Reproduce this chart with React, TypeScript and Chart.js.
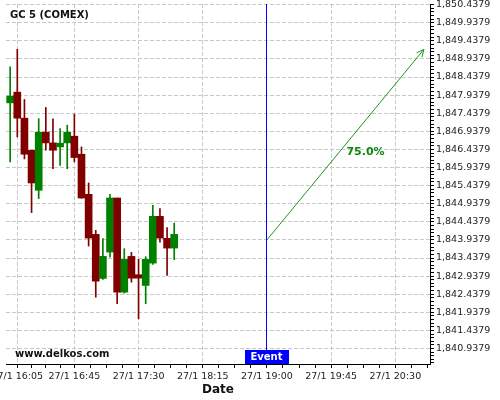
import { useEffect, useRef } from "react";
import { Chart, registerables } from "chart.js";

Chart.register(...registerables);

// ---- data ----
const candleTimes = ["16:00", "16:05", "16:10", "16:15", "16:20", "16:25", "16:30", "16:35", "16:40", "16:45", "16:50", "16:55",
  "17:00", "17:05", "17:10", "17:15", "17:20", "17:25", "17:30", "17:35", "17:40", "17:45", "17:50", "17:55"];
const opens = [1847.724, 1848.020, 1847.301, 1846.415, 1845.309, 1846.914, 1846.618, 1846.507, 1846.618, 1846.803, 1846.305, 1845.198,
  1844.091, 1842.874, 1843.602, 1845.096, 1842.495, 1843.483, 1842.976, 1842.680, 1843.297, 1844.589, 1843.981, 1843.712];
const closes = [1847.910, 1847.301, 1846.305, 1845.511, 1846.914, 1846.618, 1846.415, 1846.610, 1846.914, 1846.214, 1845.096, 1843.989,
  1842.799, 1843.483, 1845.096, 1842.495, 1843.400, 1842.882, 1842.882, 1843.400, 1844.589, 1843.989, 1843.712, 1844.091];
const highs = [1848.720, 1849.202, 1847.818, 1846.415, 1847.287, 1847.597, 1847.282, 1847.016, 1847.107, 1847.412, 1846.507, 1845.511,
  1844.202, 1843.972, 1845.198, 1845.096, 1843.696, 1843.593, 1843.400, 1843.474, 1844.894, 1844.802, 1844.277, 1844.404];
const lows = [1846.092, 1846.783, 1846.175, 1844.692, 1845.079, 1846.415, 1845.909, 1845.995, 1845.904, 1846.092, 1845.088, 1843.768,
  1842.356, 1842.846, 1843.463, 1842.174, 1842.467, 1842.771, 1841.759, 1842.174, 1843.261, 1843.878, 1842.957, 1843.391];

const xTickTimes = ["16:05", "16:45", "17:30", "18:15", "19:00", "19:45", "20:30"];
const xTickLabels = ["27/1 16:05", "27/1 16:45", "27/1 17:30", "27/1 18:15", "27/1 19:00", "27/1 19:45", "27/1 20:30"];
const yTickValues = [1840.9379, 1841.4379, 1841.9379, 1842.4379, 1842.9379, 1843.4379, 1843.9379, 1844.4379, 1844.9379, 1845.4379,
  1845.9379, 1846.4379, 1846.9379, 1847.4379, 1847.9379, 1848.4379, 1848.9379, 1849.4379, 1849.9379, 1850.4379];

const eventTime = "19:00";
const eventLabel = "Event";
const arrowStart = { time: "19:00", value: 1843.9379 };
const arrowEnd = { time: "20:50", value: 1849.2 };
const probabilityText = "75.0%";
const chartTitle = "GC 5 (COMEX)";
const watermark = "www.delkos.com";
const xAxisTitle = "Date";

// ---- helpers / styles ----
const BASE_MIN = 16 * 60;
const toMin = (t: string) => {
  const [h, m] = t.split(":").map(Number);
  return h * 60 + m - BASE_MIN;
};
const X_MIN = -2.92;
const X_MAX = 294.3;
const Y_MIN = 1840.51;
const Y_MAX = 1850.455;
const FONT = "'DejaVu Sans', sans-serif";
const UP = "rgb(0,128,0)";
const DOWN = "rgb(128,0,0)";
const ARROW = "rgb(30,150,30)";
const GRID = "#c8c8c8";

const fmt = (v: number) => v.toLocaleString("en-US", { minimumFractionDigits: 4, maximumFractionDigits: 4 });

function buildXTicks() {
  const majors = xTickTimes.map(toMin);
  const ticks: any[] = [];
  majors.forEach((v, i) => {
    ticks.push({ value: v, txt: xTickLabels[i], minor: false });
    const next = i < majors.length - 1 ? majors[i + 1] : null;
    const step = next !== null ? (next - v) / 4 : (v - majors[i - 1]) / 4;
    for (let k = 1; k < 4; k++) {
      const mv = v + step * k;
      if (mv <= X_MAX && (next === null || mv < next)) ticks.push({ value: mv, txt: "", minor: true });
    }
  });
  return ticks.sort((a, b) => a.value - b.value);
}

function buildYTicks() {
  const ticks: any[] = [];
  yTickValues.forEach((v) => ticks.push({ value: v, txt: fmt(v), minor: false }));
  const first = yTickValues[0];
  for (let k = -4; k <= 95; k++) {
    if (k % 5 === 0) continue;
    const mv = first + k * 0.1;
    if (mv >= Y_MIN && mv <= Y_MAX) ticks.push({ value: mv, txt: "", minor: true });
  }
  return ticks.sort((a, b) => a.value - b.value);
}

const overlay = {
  id: "overlay",
  afterDatasetsDraw(chart: any) {
    const { ctx, chartArea, scales } = chart;
    const x = scales.x;
    const y = scales.y;
    ctx.save();

    // event line (aligned like Chart.js grid lines)
    const ex = Math.round(x.getPixelForValue(toMin(eventTime)) - 0.5) + 0.5;
    ctx.strokeStyle = "rgb(0,0,255)";
    ctx.lineWidth = 1;
    ctx.beginPath();
    ctx.moveTo(ex, chartArea.top);
    ctx.lineTo(ex, chartArea.bottom);
    ctx.stroke();

    // arrow head
    const x1 = x.getPixelForValue(toMin(arrowStart.time));
    const y1 = y.getPixelForValue(arrowStart.value);
    const x2 = x.getPixelForValue(toMin(arrowEnd.time));
    const y2 = y.getPixelForValue(arrowEnd.value);
    const ang = Math.atan2(y2 - y1, x2 - x1);
    const hl = 8;
    ctx.strokeStyle = ARROW;
    ctx.beginPath();
    ctx.moveTo(x2 - hl * Math.cos(ang - 0.45), y2 - hl * Math.sin(ang - 0.45));
    ctx.lineTo(x2, y2);
    ctx.lineTo(x2 - hl * Math.cos(ang + 0.45), y2 - hl * Math.sin(ang + 0.45));
    ctx.stroke();

    // probability text
    const mx = (x1 + x2) / 2;
    const my = (y1 + y2) / 2;
    ctx.fillStyle = "rgb(10,138,10)";
    ctx.font = `bold 11px ${FONT}`;
    ctx.textAlign = "left";
    ctx.textBaseline = "middle";
    ctx.fillText(probabilityText, mx + 1, my + 7.5);

    // title and watermark
    ctx.fillStyle = "#111";
    ctx.font = `bold 10px ${FONT}`;
    ctx.fillText(chartTitle, chartArea.left + 4, chartArea.top + 11.5);
    ctx.fillText(watermark, chartArea.left + 9, chartArea.bottom - 9.5);

    // event box
    ctx.font = `bold 10px ${FONT}`;
    const tw = ctx.measureText(eventLabel).width;
    const bw = Math.round(tw + 12);
    const bh = 14;
    ctx.fillStyle = "rgb(0,0,255)";
    ctx.fillRect(Math.round(ex - bw / 2), chartArea.bottom - bh, bw, bh);
    ctx.fillStyle = "#fff";
    ctx.textAlign = "center";
    ctx.fillText(eventLabel, ex, chartArea.bottom - bh / 2 + 0.5);

    ctx.restore();
  },
};

export default function App() {
  const ref = useRef<HTMLCanvasElement>(null);

  useEffect(() => {
    const colors = opens.map((o, i) => (closes[i] >= o ? UP : DOWN));
    const xTicks = buildXTicks();
    const yTicks = buildYTicks();
    const gridColor = (c: any) => (c.tick && c.tick.minor ? "rgba(0,0,0,0)" : GRID);

    const chart = new Chart(ref.current as HTMLCanvasElement, {
      type: "bar",
      data: {
        datasets: [
          {
            type: "bar",
            label: "body",
            data: candleTimes.map((t, i) => ({ x: toMin(t), y: [opens[i], closes[i]] })) as any,
            backgroundColor: colors,
            borderWidth: 0,
            barThickness: 7,
            grouped: false,
          } as any,
          {
            type: "bar",
            label: "wick",
            data: candleTimes.map((t, i) => ({ x: toMin(t), y: [lows[i], highs[i]] })) as any,
            backgroundColor: colors,
            borderWidth: 0,
            barThickness: 1,
            grouped: false,
          } as any,
          {
            type: "line",
            label: "arrow",
            data: [
              { x: toMin(arrowStart.time), y: arrowStart.value },
              { x: toMin(arrowEnd.time), y: arrowEnd.value },
            ],
            borderColor: ARROW,
            borderWidth: 1,
            pointRadius: 0,
            fill: false,
          } as any,
        ],
      },
      options: {
        responsive: false,
        animation: false,
        devicePixelRatio: 1,
        layout: { padding: { left: 6, top: 4, right: 0, bottom: 0 }, autoPadding: false } as any,
        plugins: { legend: { display: false }, tooltip: { enabled: false } },
        scales: {
          x: {
            type: "linear",
            position: "bottom",
            min: X_MIN,
            max: X_MAX,
            bounds: "data",
            offset: false,
            grid: {
              offset: false,
              color: gridColor,
              lineWidth: 1,
              tickColor: "#000",
              tickLength: 4,
              tickBorderDash: [],
            } as any,
            border: { display: true, color: "#000", width: 1, dash: [4, 2] },
            ticks: {
              autoSkip: false,
              maxRotation: 0,
              minRotation: 0,
              padding: 3,
              color: "#222",
              font: { family: FONT, size: 9.5 },
              callback: (_v: any, i: number, ticks: any[]) => (ticks[i] ? ticks[i].txt : ""),
            },
            title: {
              display: true,
              text: xAxisTitle,
              color: "#111",
              font: { family: FONT, size: 12, weight: "bold" },
              padding: { top: 0, bottom: 3 },
            },
            afterBuildTicks: (s: any) => {
              s.ticks = xTicks.map((t) => ({ ...t }));
            },
            afterFit: (s: any) => {
              s.height = 36;
              s.paddingLeft = 0;
              s.paddingRight = 0;
              s.paddingTop = 0;
              s.paddingBottom = 0;
            },
          } as any,
          y: {
            type: "linear",
            position: "right",
            min: Y_MIN,
            max: Y_MAX,
            bounds: "data",
            grid: {
              color: gridColor,
              lineWidth: 1,
              tickColor: "#000",
              tickLength: 4,
              tickBorderDash: [],
            } as any,
            border: { display: true, color: "#000", width: 1, dash: [4, 2] },
            ticks: {
              autoSkip: false,
              padding: 2,
              color: "#222",
              font: { family: FONT, size: 9.5 },
              callback: (_v: any, i: number, ticks: any[]) => (ticks[i] ? ticks[i].txt : ""),
            },
            afterBuildTicks: (s: any) => {
              s.ticks = yTicks.map((t) => ({ ...t }));
            },
            afterFit: (s: any) => {
              s.width = 70;
              s.paddingLeft = 0;
              s.paddingRight = 0;
              s.paddingTop = 0;
              s.paddingBottom = 0;
            },
          } as any,
        },
      },
      plugins: [overlay],
    });
    return () => chart.destroy();
  }, []);

  return (
    <div style={{ position: "fixed", left: 0, top: 0, width: 500, height: 400, background: "#fff" }}>
      <canvas ref={ref} width={500} height={400} style={{ display: "block", width: 500, height: 400 }} />
    </div>
  );
}
